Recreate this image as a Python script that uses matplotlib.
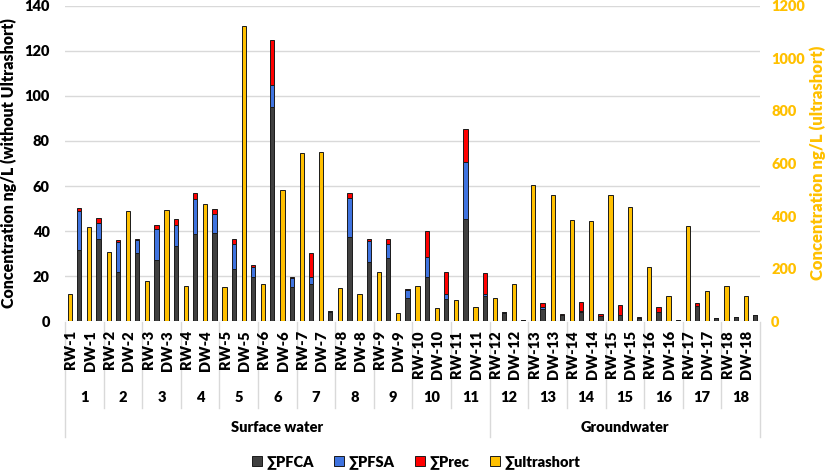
import matplotlib
matplotlib.use("Agg")
import matplotlib.pyplot as plt
import numpy as np
from matplotlib.transforms import blended_transform_factory
from matplotlib.patches import Patch

plt.rcParams['font.family'] = ['Lato', 'DejaVu Sans']
WT = 'heavy'
plt.rcParams['font.weight'] = WT

groups = [str(i) for i in range(1, 19)]
samples = []
for g in groups:
    samples += ["RW-" + g, "DW-" + g]
regions = ["Surface water", "Groundwater"]
region_groups = [11, 7]

pfca = [31.6, 36.4, 21.7, 30.2, 27.2, 33.4, 38.6, 39.0, 23.1, 19.8, 95.0, 15.4,
        16.7, 4.0, 37.3, 26.4, 28.2, 10.2, 19.5, 9.9, 45.5, 11.4, 3.8, 0.6,
        5.3, 3.0, 4.3, 2.4, 2.7, 1.4, 4.0, 0.4, 6.8, 1.5, 2.0, 2.7]
pfsa = [17.3, 7.4, 13.3, 5.9, 13.6, 9.3, 15.8, 8.5, 11.1, 4.2, 9.9, 3.8,
        3.1, 0.4, 17.5, 9.4, 6.0, 3.8, 9.2, 2.2, 25.3, 0.8, 0.2, 0.0,
        1.2, 0.0, 0.4, 0.0, 0.0, 0.0, 0.3, 0.0, 0.0, 0.0, 0.0, 0.0]
prec = [1.5, 1.9, 1.2, 0.6, 2.1, 2.6, 2.7, 2.5, 2.2, 1.0, 19.9, 0.5,
        10.4, 0.2, 2.0, 0.9, 2.3, 0.2, 11.4, 9.8, 14.4, 9.2, 0.1, 0.0,
        1.8, 0.4, 3.9, 0.7, 4.4, 0.5, 2.0, 0.0, 1.2, 0.0, 0.0, 0.0]
ultrashort = [105, 359, 262, 419, 153, 424, 133, 445, 130, 1122, 143, 498,
              640, 645, 127, 104, 188, 32, 134, 49, 81, 54, 88, 143,
              520, 482, 386, 383, 482, 436, 208, 96, 362, 116, 134, 96]

c_pfca = '#404040'
c_pfsa = '#3F73DF'
c_prec = '#FF0000'
c_ultra = '#FFC000'
edge = '#1a1a1a'

W, H = 828, 470
fig = plt.figure(figsize=(W / 100, H / 100), dpi=100)
ax = fig.add_axes([65 / W, 1 - 321.3 / H, 695 / W, (321.3 - 5.7) / H])
ax2 = ax.twinx()

x = np.arange(len(samples))
bw = 0.22
off = 0.24
pfca_a = np.array(pfca)
pfsa_a = np.array(pfsa)
prec_a = np.array(prec)

ax.bar(x + off, pfca_a, bw, color=c_pfca, edgecolor=edge, linewidth=0.7, zorder=3)
ax.bar(x + off, pfsa_a, bw, bottom=pfca_a, color=c_pfsa, edgecolor=edge, linewidth=0.7, zorder=3)
ax.bar(x + off, prec_a, bw, bottom=pfca_a + pfsa_a, color=c_prec, edgecolor=edge, linewidth=0.7, zorder=3)
ax2.bar(x - off, ultrashort, bw, color=c_ultra, edgecolor=edge, linewidth=0.7, zorder=3)

ax.set_xlim(-0.5, len(samples) - 0.5)
ax.set_ylim(0, 140)
ax2.set_ylim(0, 1200)
ax.set_yticks(np.arange(0, 141, 20))
ax2.set_yticks(np.arange(0, 1201, 200))
ax.set_xticks([])
ax.grid(axis='y', color='#d9d9d9', linewidth=1.0, zorder=0)
ax.set_axisbelow(True)
for a in (ax, ax2):
    for s in a.spines.values():
        s.set_visible(False)
ax.tick_params(axis='y', length=0, pad=11, labelsize=10.5, labelcolor='black')
ax2.tick_params(axis='y', length=0, pad=8, labelsize=10.5, labelcolor=c_ultra)
for lab in ax.get_yticklabels() + ax2.get_yticklabels():
    lab.set_fontweight(WT)

fig.text(9 / W, 1 - 163 / H, "Concentration ng/L (without Ultrashort)", rotation=90,
         ha='center', va='center', fontsize=11.5, fontweight=WT, color='black')
fig.text(818 / W, 1 - 163 / H, "Concentration ng/L (ultrashort)", rotation=90,
         ha='center', va='center', fontsize=12, fontweight=WT, color=c_ultra)

tr = blended_transform_factory(ax.transData, fig.transFigure)
def fy(px):
    return 1 - px / H

for i, s in enumerate(samples):
    ax.text(i - 0.2, fy(330), s, rotation=90, ha='center', va='top',
            fontsize=10.5, fontweight=WT, transform=tr, clip_on=False)
for k, g in enumerate(groups):
    ax.text(2 * k + 0.5, fy(397), g, ha='center', va='center',
            fontsize=10.5, fontweight=WT, transform=tr, clip_on=False)

start = 0
bounds = [0]
for r, n in zip(regions, region_groups):
    center = 2 * start + n - 0.5
    ax.text(center, fy(427), r, ha='center', va='center', fontsize=10.5,
            fontweight=WT, transform=tr, clip_on=False)
    start += n
    bounds.append(start)

for k in range(len(groups) + 1):
    xb = 2 * k - 0.5
    ybot = 437 if k in bounds else 408
    ax.plot([xb, xb], [fy(322), fy(ybot)], color='#d9d9d9', linewidth=1.0,
            transform=tr, clip_on=False)

handles = [Patch(facecolor=c_pfca, edgecolor=edge, linewidth=0.7, label='∑PFCA'),
           Patch(facecolor=c_pfsa, edgecolor=edge, linewidth=0.7, label='∑PFSA'),
           Patch(facecolor=c_prec, edgecolor=edge, linewidth=0.7, label='∑Prec'),
           Patch(facecolor=c_ultra, edgecolor=edge, linewidth=0.7, label='∑ultrashort')]
fig.legend(handles=handles, loc='center', bbox_to_anchor=(416 / W, fy(462)), ncol=4,
           frameon=False, handlelength=0.7, handleheight=0.7,
           handletextpad=0.3, columnspacing=1.4, prop={'weight': WT, 'size': 10.5})

fig.savefig("out.png", dpi=100)
